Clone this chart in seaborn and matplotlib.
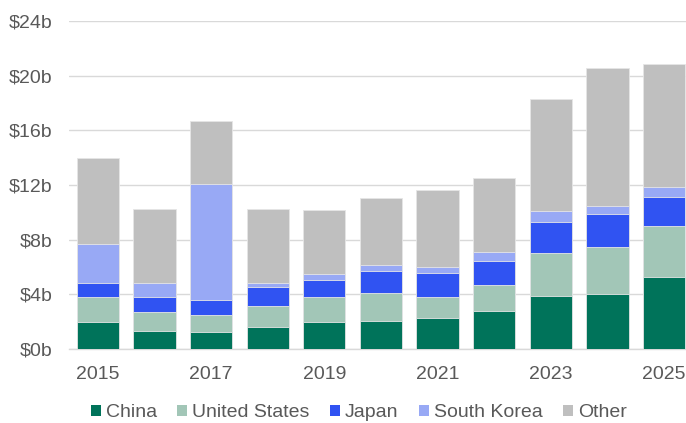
import numpy as np
import pandas as pd
import matplotlib
matplotlib.use('Agg')
import matplotlib.pyplot as plt
import seaborn as sns
from matplotlib.patches import Patch

years = [str(y) for y in range(2015, 2026)]
series = ['China', 'United States', 'Japan', 'South Korea', 'Other']
china = [1.97, 1.29, 1.22, 1.61, 1.97, 2.05, 2.24, 2.80, 3.87, 4.00, 5.26]
united_states = [1.81, 1.41, 1.29, 1.53, 1.81, 2.04, 1.56, 1.85, 3.12, 3.50, 3.73]
japan = [1.02, 1.08, 1.05, 1.39, 1.26, 1.61, 1.78, 1.78, 2.34, 2.37, 2.12]
south_korea = [2.92, 1.04, 8.53, 0.29, 0.44, 0.44, 0.44, 0.66, 0.76, 0.63, 0.76]
other = [6.29, 5.46, 4.58, 5.46, 4.68, 4.90, 5.65, 5.43, 8.21, 10.04, 8.96]
colors = ['#00735A', '#A2C6B7', '#3053F2', '#98A9F5', '#BFBFBF']

df = pd.DataFrame({'year': years, 'China': china, 'United States': united_states,
                   'Japan': japan, 'South Korea': south_korea, 'Other': other})
# cumulative tops so the stack can be drawn back to front
cum = df[series].cumsum(axis=1)

sns.set_style('white')
plt.rcParams['font.family'] = ['Liberation Sans', 'DejaVu Sans']
text_grey = '#595959'

fig = plt.figure(figsize=(6.86, 4.23), dpi=100)
# plot area runs slightly past the right edge of the figure, as in the original
ax = fig.add_axes([0.1013, 0.175, 0.908, 0.775])

for name, col in reversed(list(zip(series, colors))):
    sns.barplot(x=df['year'], y=cum[name], color=col, width=0.747,
                edgecolor='#E6E6E6', linewidth=0.6, saturation=1, ax=ax, zorder=3)

ax.set_ylim(0, 24)
ax.set_yticks(range(0, 25, 4))
ax.set_yticklabels([f'${v}b' for v in range(0, 25, 4)])
ax.set_xlim(-0.5, len(years) - 0.5)
ax.set_xticks(range(0, len(years), 2))
ax.set_xticklabels(years[::2])
ax.set_xlabel('')
ax.set_ylabel('')
ax.grid(axis='y', color='#D9D9D9', linewidth=1, zorder=0)
for s in ['top', 'right', 'left']:
    ax.spines[s].set_visible(False)
ax.spines['bottom'].set_color('#D9D9D9')
ax.spines['bottom'].set_linewidth(1)
ax.tick_params(axis='both', length=0, labelsize=14, labelcolor=text_grey)
ax.tick_params(axis='x', pad=12)
ax.tick_params(axis='y', pad=12)

handles = [Patch(facecolor=c, edgecolor='none') for c in colors]
fig.legend(handles, series, loc='center', bbox_to_anchor=(0.523, 0.024), ncol=5,
           frameon=False, fontsize=14, labelcolor=text_grey, handlelength=0.52,
           handleheight=0.52, handletextpad=0.25, columnspacing=1.05)

fig.savefig('out.png', dpi=100)
